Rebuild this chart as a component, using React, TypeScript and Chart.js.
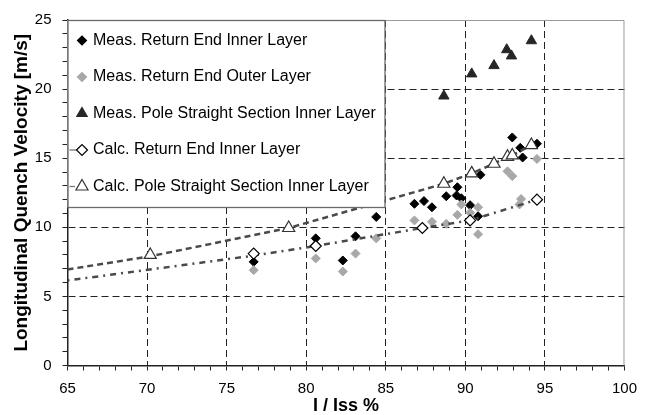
import React, { useEffect, useRef } from 'react';
import { Chart, registerables } from 'chart.js';

Chart.register(...registerables);

const FONT = '"Liberation Sans", Arial, sans-serif';

// X axis (I / Iss %) ticks and range
const xMin = 65;
const xMax = 100;
const yMin = 0;
const yMax = 25;

// Meas. Return End Inner Layer (black diamonds)
const measInnerX = [76.7, 80.6, 82.3, 83.1, 84.4, 86.8, 87.4, 87.9, 88.8, 89.5, 89.45, 89.75, 90.3, 90.8, 90.95, 92.95, 93.45, 93.6, 94.5];
const measInnerY = [7.5, 9.2, 7.6, 9.35, 10.75, 11.7, 11.9, 11.45, 12.25, 12.9, 12.3, 12.1, 11.6, 10.8, 13.8, 16.5, 15.75, 15.05, 16.05];

// Meas. Return End Outer Layer (grey diamonds)
const measOuterX = [76.7, 80.6, 82.3, 83.1, 84.4, 86.8, 87.9, 88.8, 89.5, 89.75, 90.3, 90.8, 90.8, 92.65, 92.95, 93.4, 93.5, 94.5];
const measOuterY = [6.9, 7.75, 6.8, 8.1, 9.2, 10.5, 10.4, 10.25, 10.9, 11.65, 11.05, 11.45, 9.5, 14.05, 13.7, 11.65, 12.05, 14.95];

// Meas. Pole Straight Section Inner Layer (black triangles)
const measPoleX = [88.65, 90.4, 91.8, 92.6, 92.9, 94.15];
const measPoleY = [19.5, 21.1, 21.7, 22.85, 22.4, 23.5];

// Calc. Return End Inner Layer (open diamonds)
const calcReX = [76.7, 80.6, 87.3, 90.3, 94.5];
const calcReY = [8.1, 8.65, 9.95, 10.5, 12.0];

// Calc. Pole Straight Section Inner Layer (open triangles)
const calcPoleX = [70.2, 78.9, 88.65, 90.4, 91.8, 92.65, 92.95, 94.15];
const calcPoleY = [8.0, 9.95, 13.15, 13.9, 14.6, 15.1, 15.2, 15.95];

// Calculated curves (dotted lines)
const calcReCurveX = [65, 76.7, 80.6, 87.3, 90.3, 94.5];
const calcReCurveY = [6.15, 7.95, 8.65, 9.95, 10.5, 12.0];
const calcPoleCurveX = [65, 70.2, 78.9, 88.65, 90.4, 91.8, 92.65, 92.95, 94.15];
const calcPoleCurveY = [6.95, 7.9, 9.95, 13.15, 13.9, 14.6, 15.1, 15.2, 15.95];

const seriesLabels = [
  'Meas. Return End Inner Layer',
  'Meas. Return End Outer Layer',
  'Meas. Pole Straight Section Inner Layer',
  'Calc. Return End Inner Layer',
  'Calc. Pole Straight Section Inner Layer',
];

const pts = (xs: number[], ys: number[]) => xs.map((x, i) => ({ x, y: ys[i] }));

type Marker = { shape: 'diamond' | 'triangle'; fill: string; stroke: string; r: number; line: boolean };
const legendMarkers: Marker[] = [
  { shape: 'diamond', fill: '#000000', stroke: '#000000', r: 4.5, line: false },
  { shape: 'diamond', fill: '#a8a8a8', stroke: '#a8a8a8', r: 4.5, line: false },
  { shape: 'triangle', fill: '#262626', stroke: '#262626', r: 6, line: false },
  { shape: 'diamond', fill: '#ffffff', stroke: '#000000', r: 5.5, line: true },
  { shape: 'triangle', fill: '#ffffff', stroke: '#333333', r: 7, line: true },
];

const framePlugin = {
  id: 'frame',
  beforeDatasetsDraw(chart: any) {
    const { ctx, chartArea: a } = chart;
    ctx.save();
    ctx.strokeStyle = '#9a9a9a';
    ctx.lineWidth = 1;
    ctx.beginPath();
    ctx.moveTo(a.left, a.top + 0.5);
    ctx.lineTo(a.right - 0.5, a.top + 0.5);
    ctx.lineTo(a.right - 0.5, a.bottom);
    ctx.stroke();
    ctx.restore();
  },
};

const legendPlugin = {
  id: 'boxLegend',
  afterDatasetsDraw(chart: any) {
    const { ctx, chartArea: a } = chart;
    const lx = a.left;
    const ly = a.top;
    const lw = 317;
    const lh = 187;
    ctx.save();
    ctx.fillStyle = '#ffffff';
    ctx.fillRect(lx, ly, lw, lh);
    ctx.strokeStyle = '#6a6a6a';
    ctx.lineWidth = 1.3;
    ctx.strokeRect(lx + 0.5, ly + 0.5, lw, lh);
    ctx.font = `16px ${FONT}`;
    ctx.textBaseline = 'middle';
    ctx.textAlign = 'left';
    seriesLabels.forEach((label, i) => {
      const m = legendMarkers[i];
      const cy = ly + 20.5 + i * 36.5;
      const cx = lx + 14.5;
      if (m.line) {
        ctx.strokeStyle = '#777777';
        ctx.lineWidth = 1.3;
        ctx.beginPath();
        ctx.moveTo(lx + 2, cy);
        ctx.lineTo(cx - m.r, cy);
        ctx.stroke();
      }
      ctx.beginPath();
      if (m.shape === 'diamond') {
        ctx.moveTo(cx - m.r, cy);
        ctx.lineTo(cx, cy - m.r);
        ctx.lineTo(cx + m.r, cy);
        ctx.lineTo(cx, cy + m.r);
      } else {
        const s = Math.sin((2 * Math.PI) / 3) * m.r;
        ctx.moveTo(cx, cy - m.r);
        ctx.lineTo(cx + s, cy + m.r / 2);
        ctx.lineTo(cx - s, cy + m.r / 2);
      }
      ctx.closePath();
      ctx.fillStyle = m.fill;
      ctx.fill();
      ctx.strokeStyle = m.stroke;
      ctx.lineWidth = 1.2;
      ctx.stroke();
      ctx.fillStyle = '#000000';
      ctx.fillText(label, lx + 25.5, cy);
    });
    ctx.restore();
  },
};

export default function App() {
  const ref = useRef<HTMLCanvasElement>(null);

  useEffect(() => {
    if (!ref.current) return;
    const gridColor = (min: number, max: number) => (c: any) => {
      const v = c.tick ? c.tick.value : NaN;
      if (v % 5 === 0 && v !== min && v !== max) return '#222222';
      return 'rgba(0,0,0,0)';
    };
    const tickFont = { family: FONT, size: 15 };
    const chart = new Chart(ref.current, {
      type: 'scatter',
      data: {
        datasets: [
          {
            label: seriesLabels[0],
            data: pts(measInnerX, measInnerY),
            pointStyle: 'rectRot',
            pointRadius: 4.5,
            backgroundColor: '#000000',
            borderColor: '#000000',
            borderWidth: 1,
            order: 7,
          },
          {
            label: seriesLabels[1],
            data: pts(measOuterX, measOuterY),
            pointStyle: 'rectRot',
            pointRadius: 4.5,
            backgroundColor: '#a8a8a8',
            borderColor: '#a8a8a8',
            borderWidth: 1,
            order: 6,
          },
          {
            label: seriesLabels[2],
            data: pts(measPoleX, measPoleY),
            pointStyle: 'triangle',
            pointRadius: 6,
            backgroundColor: '#262626',
            borderColor: '#262626',
            borderWidth: 1,
            order: 5,
          },
          {
            label: 'calc-re-curve',
            data: pts(calcReCurveX, calcReCurveY),
            showLine: true,
            pointRadius: 0,
            borderColor: '#4a4a4a',
            borderWidth: 2.5,
            borderDash: [2, 5, 6, 5],
            fill: false,
            order: 4,
          },
          {
            label: seriesLabels[3],
            data: pts(calcReX, calcReY),
            pointStyle: 'rectRot',
            pointRadius: 5.5,
            backgroundColor: '#ffffff',
            borderColor: '#000000',
            borderWidth: 1.2,
            order: 3,
          },
          {
            label: 'calc-pole-curve',
            data: pts(calcPoleCurveX, calcPoleCurveY),
            showLine: true,
            pointRadius: 0,
            borderColor: '#4a4a4a',
            borderWidth: 2.5,
            borderDash: [6, 4],
            fill: false,
            order: 2,
          },
          {
            label: seriesLabels[4],
            data: pts(calcPoleX, calcPoleY),
            pointStyle: 'triangle',
            pointRadius: 7,
            backgroundColor: '#ffffff',
            borderColor: '#333333',
            borderWidth: 1.2,
            order: 1,
          },
        ],
      },
      options: {
        animation: false,
        responsive: true,
        maintainAspectRatio: false,
        layout: { padding: { left: 0, top: 17, right: 15, bottom: 0 } },
        plugins: { legend: { display: false }, tooltip: { enabled: false } },
        scales: {
          x: {
            type: 'linear',
            min: xMin,
            max: xMax,
            afterFit: (s: any) => {
              s.height = 49.5;
            },
            ticks: {
              stepSize: 1,
              autoSkip: false,
              maxRotation: 0,
              padding: 9,
              color: '#000000',
              font: tickFont,
              callback: (v: any) => (Number(v) % 5 === 0 ? String(v) : ''),
            },
            grid: {
              color: gridColor(xMin, xMax),
              lineWidth: 1,
              tickColor: '#222222',
              tickLength: 5,
              tickWidth: 1,
            },
            border: { display: true, color: '#222222', width: 1.5, dash: [7, 4] },
            title: {
              display: true,
              text: 'I / Iss %',
              color: '#000000',
              font: { family: FONT, size: 18, weight: 'bold' },
              padding: { top: 0, bottom: -2 },
            },
          },
          y: {
            type: 'linear',
            min: yMin,
            max: yMax,
            afterFit: (s: any) => {
              s.width = 67.5;
            },
            ticks: {
              stepSize: 1,
              autoSkip: false,
              padding: 11,
              color: '#000000',
              font: tickFont,
              callback: (v: any) => (Number(v) % 5 === 0 ? String(v) : ''),
            },
            grid: {
              color: gridColor(yMin, yMax),
              lineWidth: 1,
              tickColor: '#222222',
              tickLength: 5,
              tickWidth: 1,
            },
            border: { display: true, color: '#222222', width: 1.5, dash: [7, 4] },
            title: {
              display: true,
              text: 'Longitudinal Quench Velocity [m/s]',
              color: '#000000',
              font: { family: FONT, size: 19, weight: 'bold' },
              padding: { top: 10.5, bottom: 0 },
            },
          },
        },
      },
      plugins: [framePlugin, legendPlugin],
    } as any);
    return () => chart.destroy();
  }, []);

  return (
    <div style={{ position: 'fixed', left: 0, top: 0, width: 646, height: 415, background: '#ffffff' }}>
      <canvas ref={ref} />
    </div>
  );
}
